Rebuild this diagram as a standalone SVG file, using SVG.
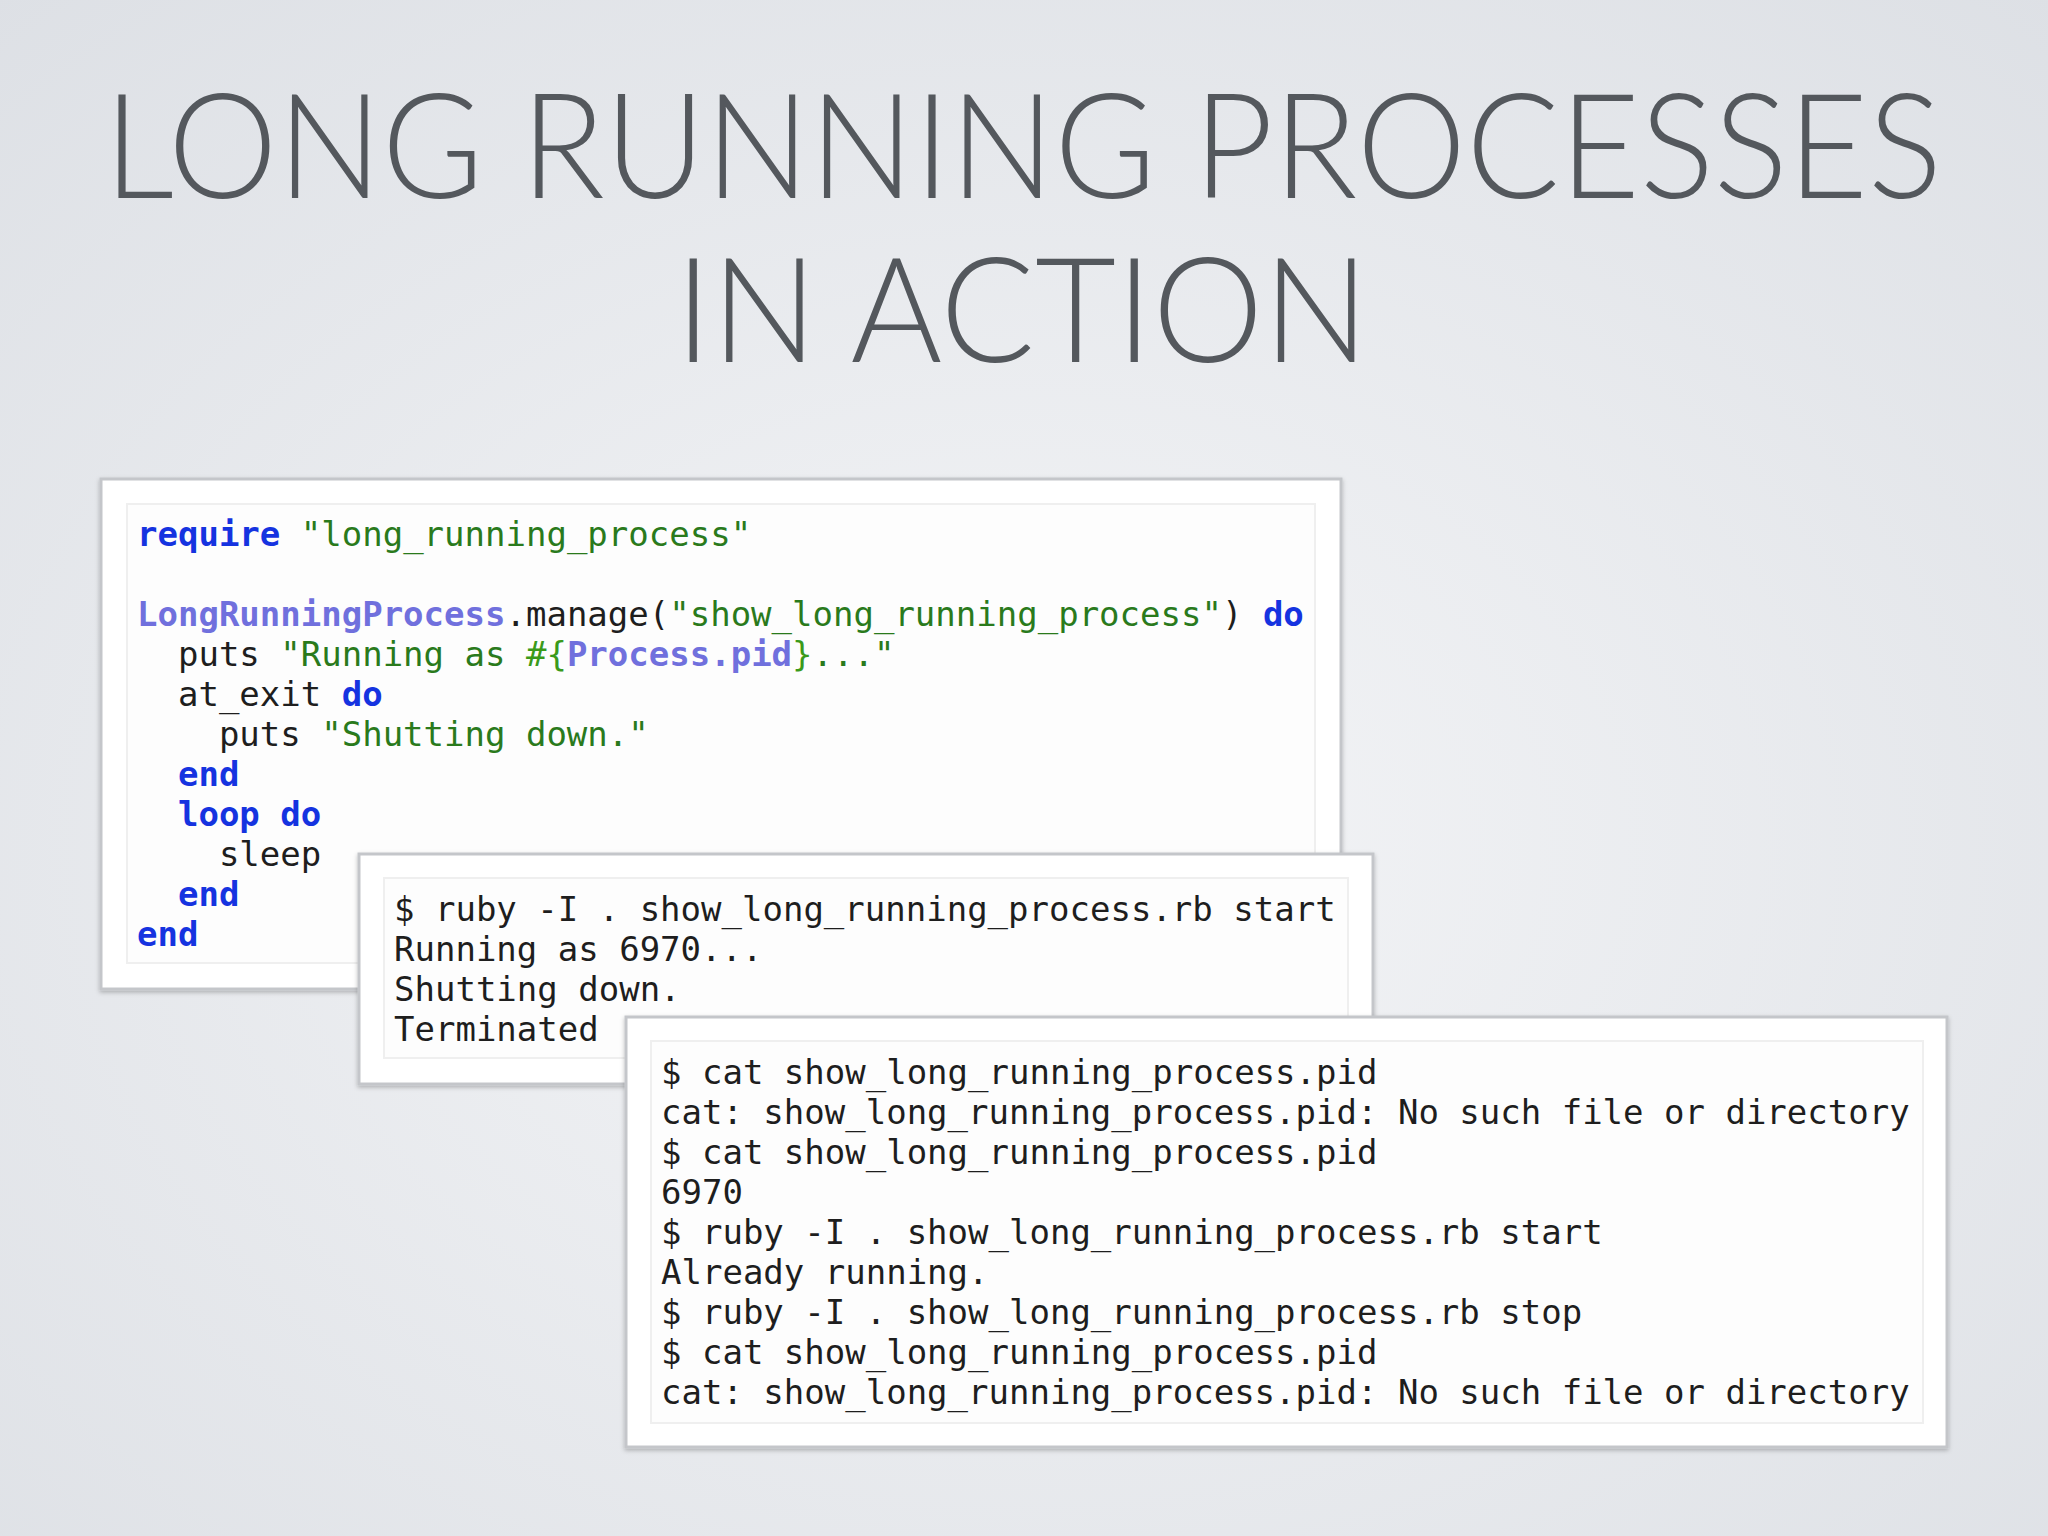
<svg xmlns="http://www.w3.org/2000/svg" width="2048" height="1536" viewBox="0 0 2048 1536">
<defs>
<radialGradient id="bg" cx="50%" cy="55%" r="75%">
<stop offset="0" stop-color="#f4f5f7"/><stop offset="1" stop-color="#dde0e5"/>
</radialGradient>
<filter id="sh" x="-5%" y="-5%" width="110%" height="110%"><feDropShadow dx="0" dy="2" stdDeviation="2" flood-color="#000" flood-opacity="0.25"/></filter>
</defs>
<style>
.title{font-family:"Lato","Open Sans",sans-serif;font-weight:300;font-size:146px;fill:#54585d}
.box{fill:#ffffff;stroke:#c4c6ca;stroke-width:3}
.inner{fill:#fdfdfd;stroke:#efefef;stroke-width:2}
.code{font-family:"DejaVu Sans Mono","Liberation Mono",monospace;font-size:34px;fill:#1e1e1e;white-space:pre}
.kw{fill:#1533e0;font-weight:bold}
.str{fill:#2a7a1c}
.cls{fill:#7070dd;font-weight:bold}
.interp{fill:#3a9a1a}
</style>
<rect width="2048" height="1536" fill="url(#bg)"/>
<g id="title">
<text class="title" x="104" y="198" textLength="1838" lengthAdjust="spacingAndGlyphs">LONG RUNNING PROCESSES</text>
<text class="title" x="675" y="362" textLength="694" lengthAdjust="spacingAndGlyphs">IN ACTION</text>
</g>
<g id="code-box">
<rect class="box" x="101" y="479" width="1240" height="510" filter="url(#sh)"/>
<rect class="inner" x="127" y="504" width="1188" height="459"/>
<text class="code" xml:space="preserve"><tspan x="137" y="546"><tspan class="kw">require</tspan> <tspan class="str">"long_running_process"</tspan></tspan><tspan x="137" y="626"><tspan class="cls">LongRunningProcess</tspan>.manage(<tspan class="str">"show_long_running_process"</tspan>) <tspan class="kw">do</tspan></tspan><tspan x="137" y="666">  puts <tspan class="str">"Running as </tspan><tspan class="interp">#{</tspan><tspan class="cls">Process</tspan><tspan class="cls" font-weight="normal">.pid</tspan><tspan class="interp">}</tspan><tspan class="str">..."</tspan></tspan><tspan x="137" y="706">  at_exit <tspan class="kw">do</tspan></tspan><tspan x="137" y="746">    puts <tspan class="str">"Shutting down."</tspan></tspan><tspan x="137" y="786">  <tspan class="kw">end</tspan></tspan><tspan x="137" y="826">  <tspan class="kw">loop do</tspan></tspan><tspan x="137" y="866">    sleep</tspan><tspan x="137" y="906">  <tspan class="kw">end</tspan></tspan><tspan x="137" y="946"><tspan class="kw">end</tspan></tspan></text>
</g>
<g id="run-box">
<rect class="box" x="359" y="854" width="1014" height="230" filter="url(#sh)"/>
<rect class="inner" x="384" y="878" width="964" height="180"/>
<text class="code" xml:space="preserve"><tspan x="394" y="921">$ ruby -I . show_long_running_process.rb start</tspan><tspan x="394" y="961">Running as 6970...</tspan><tspan x="394" y="1001">Shutting down.</tspan><tspan x="394" y="1041">Terminated</tspan></text>
</g>
<g id="cat-box">
<rect class="box" x="626" y="1017" width="1321" height="430" filter="url(#sh)"/>
<rect class="inner" x="651" y="1041" width="1272" height="382"/>
<text class="code" xml:space="preserve"><tspan x="661" y="1084">$ cat show_long_running_process.pid</tspan><tspan x="661" y="1124">cat: show_long_running_process.pid: No such file or directory</tspan><tspan x="661" y="1164">$ cat show_long_running_process.pid</tspan><tspan x="661" y="1204">6970</tspan><tspan x="661" y="1244">$ ruby -I . show_long_running_process.rb start</tspan><tspan x="661" y="1284">Already running.</tspan><tspan x="661" y="1324">$ ruby -I . show_long_running_process.rb stop</tspan><tspan x="661" y="1364">$ cat show_long_running_process.pid</tspan><tspan x="661" y="1404">cat: show_long_running_process.pid: No such file or directory</tspan></text>
</g>
<g id="connectors"/>
</svg>
